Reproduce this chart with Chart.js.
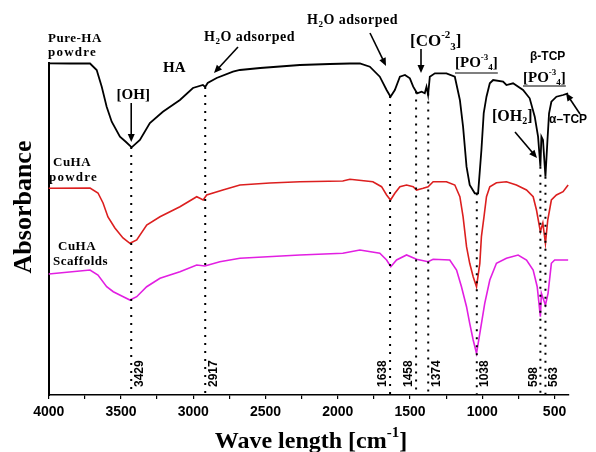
<!DOCTYPE html>
<html>
<head>
<meta charset="utf-8">
<script src="https://cdn.jsdelivr.net/npm/chart.js@4"></script>
<style>html,body{margin:0;padding:0;background:#fff}</style>
</head>
<body>
<canvas id="ftir" width="596" height="452"></canvas>
<script>
// FTIR spectra, values (arbitrary absorbance units)
const pureWn  = [4000,3853,3714,3668,3633,3599,3564,3507,3465,3426,3369,3300,3210,3092,3002,2933,2917,2900,2838,2725,2677,2537,2262,2055,1916,1847,1778,1709,1662,1635,1605,1570,1535,1501,1478,1451,1420,1398,1386,1375,1363,1328,1248,1190,1155,1133,1109,1087,1052,1029,1006,990,971,948,925,856,833,787,718,672,637,614,598,591,580,563,549,538,522,487,441,406];
const pureAbs = [331.7,331.5,331.5,325,308.3,288.3,273.3,258.3,253,247.7,255,272,283.3,295,307,310,308,312,317,323.3,325,327,330,331,331.5,331.7,328.3,318.3,305,298.3,305,318.3,320,316.7,308.3,301.7,303.3,301.7,308.3,300,318.3,321.7,321.7,318.3,295,268.3,228.3,210,201.7,201.7,245,282,298.3,311.7,315,313.3,310,311.7,305,296.7,278.3,258.3,228.3,258.3,255,218.3,255,281.7,293.3,298.3,300,301.7];

const cuWn  = [4000,3714,3659,3624,3590,3542,3486,3438,3391,3322,3230,3092,2976,2954,2931,2907,2795,2677,2470,2262,1965,1916,1757,1697,1662,1635,1605,1570,1524,1478,1455,1409,1375,1340,1248,1190,1155,1133,1109,1087,1063,1040,1017,1006,988,971,948,902,833,764,694,648,625,598,581,563,547,522,487,441,406];
const cuAbs = [206.7,207,202,192,178,167,157,151.7,155,170,178.3,188.3,198.3,196.7,195,200,205,210,212,213.3,214,215.7,213.3,208.3,200,195,201.7,208.3,210,208.3,205,206.7,208.3,213.3,213.3,210,198.3,178.3,148.3,131.7,118.3,108.3,131.7,158.3,178.3,198.3,208.3,212.3,213.3,210,205,198.3,185,163.3,172,151.7,175,195,200,203.3,210];

const scafWn  = [4000,3714,3659,3599,3553,3484,3438,3391,3322,3230,3092,2976,2919,2816,2677,2262,1965,1847,1709,1662,1633,1593,1524,1455,1375,1340,1225,1178,1144,1109,1087,1063,1040,1017,983,948,902,833,752,694,648,620,598,591,580,563,545,522,499,406];
const scafAbs = [121,125,120,108.3,103.3,98.3,95,98.3,108.3,116.7,123.3,130,129,133.3,136.7,140,141.7,145,141.7,135,128.3,135,140,135.7,133.3,135.7,135,125,108.3,88.3,71.7,55,41.7,61.7,91.7,115,131.7,136.7,140,135,125,108.3,78.3,101.7,97,90,101.7,131.7,135,135];

const seriesNames = ['Pure-HA powdre', 'CuHA powdre', 'CuHA Scaffolds'];
const peakWn = [3429, 2917, 1638, 1458, 1374, 1038, 598, 563];
const peakSide = ['r', 'r', 'l', 'l', 'r', 'r', 'l', 'r'];

const toPts = (xs, ys) => xs.map((v, i) => ({x: v, y: ys[i]}));

// value of the top spectrum at a wavenumber (for the dotted guide lines)
function pureAt(w) {
    for (let i = 0; i < pureWn.length - 1; i++) {
        const a = pureWn[i], b = pureWn[i + 1];
        if (w <= a && w >= b) return pureAbs[i] + (pureAbs[i + 1] - pureAbs[i]) * (a - w) / (a - b);
    }
    return pureAbs[pureAbs.length - 1];
}

const SERIF = '"Liberation Serif", "Times New Roman", serif';
const SANS = '"Liberation Sans", Arial, sans-serif';

function rich(ctx, parts, x, y, size, align) {
    const fnt = k => 'bold ' + (k === 'n' ? size : Math.round(size * 0.62)) + 'px ' + SERIF;
    let w = 0;
    parts.forEach(p => { ctx.font = fnt(p[1]); w += ctx.measureText(p[0]).width; });
    let cx = align === 'center' ? x - w / 2 : x;
    ctx.textAlign = 'left';
    parts.forEach(p => {
        ctx.font = fnt(p[1]);
        const dy = p[1] === 'sub' ? size * 0.3 : p[1] === 'sup' ? -size * 0.38 : 0;
        ctx.fillText(p[0], cx, y + dy);
        cx += ctx.measureText(p[0]).width;
    });
    return w;
}

function arrow(ctx, x1, y1, x2, y2) {
    const a = Math.atan2(y2 - y1, x2 - x1), L = 8, W = 3.5;
    ctx.beginPath(); ctx.moveTo(x1, y1); ctx.lineTo(x2 - Math.cos(a) * L * 0.6, y2 - Math.sin(a) * L * 0.6); ctx.stroke();
    ctx.beginPath();
    ctx.moveTo(x2, y2);
    ctx.lineTo(x2 - Math.cos(a) * L + Math.sin(a) * W, y2 - Math.sin(a) * L - Math.cos(a) * W);
    ctx.lineTo(x2 - Math.cos(a) * L - Math.sin(a) * W, y2 - Math.sin(a) * L + Math.cos(a) * W);
    ctx.closePath(); ctx.fill();
}

const annot = {
    id: 'annot',
    afterDatasetsDraw(chart) {
        const {ctx, scales: {x, y}} = chart;
        const base = y.getPixelForValue(0);
        ctx.save();
        ctx.fillStyle = '#000'; ctx.strokeStyle = '#000';

        // dotted guide lines + rotated labels
        peakWn.forEach((w, i) => {
            const px = x.getPixelForValue(w);
            ctx.setLineDash([2, 6]); ctx.lineWidth = 2;
            ctx.beginPath(); ctx.moveTo(px, y.getPixelForValue(pureAt(w))); ctx.lineTo(px, base); ctx.stroke();
            ctx.setLineDash([]);
            ctx.save();
            ctx.translate(px + (peakSide[i] === 'r' ? 8 : -7), base - 8);
            ctx.rotate(-Math.PI / 2);
            ctx.font = 'bold 12px ' + SANS; ctx.textAlign = 'left'; ctx.textBaseline = 'middle';
            ctx.fillText(String(w), 0, 0);
            ctx.restore();
        });

        ctx.textBaseline = 'middle';
        ctx.lineWidth = 1.6;
        // series names
        ctx.font = 'bold 13px ' + SERIF; ctx.textAlign = 'left';
        ctx.letterSpacing = '0.5px';
        ctx.fillText('Pure-HA', 48, 39);
        ctx.letterSpacing = '1.2px';
        ctx.fillText('powdre', 48, 53);
        ctx.letterSpacing = '0.5px';
        ctx.fillText('CuHA', 53, 163);
        ctx.letterSpacing = '1.2px';
        ctx.fillText('powdre', 49, 178);
        ctx.letterSpacing = '0.5px';
        ctx.fillText('CuHA', 58, 247); ctx.fillText('Scaffolds', 53, 262);
        ctx.letterSpacing = '0px';

        ctx.font = 'bold 15px ' + SERIF;
        ctx.fillText('HA', 163, 68);
        rich(ctx, [['[OH]', 'n']], x.getPixelForValue(3429) + 2, 95, 15, 'center');
        arrow(ctx, x.getPixelForValue(3429), 103, x.getPixelForValue(3429), 142);

        ctx.letterSpacing = '0.5px';
        rich(ctx, [['H', 'n'], ['2', 'sub'], ['O adsorped', 'n']], 204, 37, 14, 'left');
        rich(ctx, [['H', 'n'], ['2', 'sub'], ['O adsorped', 'n']], 307, 20, 14, 'left');
        ctx.letterSpacing = '0px';
        arrow(ctx, 238, 47, 214, 73);
        arrow(ctx, 370, 33, 386, 66);

        rich(ctx, [['[CO', 'n'], ['-2', 'sup'], ['3', 'sub'], [']', 'n']], 410, 42, 17, 'left');
        arrow(ctx, 421, 49, 421, 73);

        let w = rich(ctx, [['[PO', 'n'], ['-3', 'sup'], ['4', 'sub'], [']', 'n']], 455, 63, 15, 'left');
        ctx.lineWidth = 1.2;
        ctx.beginPath(); ctx.moveTo(455, 73); ctx.lineTo(455 + w, 73); ctx.stroke();
        w = rich(ctx, [['[PO', 'n'], ['-3', 'sup'], ['4', 'sub'], [']', 'n']], 523, 78, 15, 'left');
        ctx.beginPath(); ctx.moveTo(523, 86); ctx.lineTo(523 + w, 86); ctx.stroke();

        rich(ctx, [['[OH', 'n'], ['2', 'sub'], [']', 'n']], 492, 117, 16, 'left');
        ctx.lineWidth = 1.6;
        arrow(ctx, 515, 132, 537, 158);

        ctx.font = 'bold 12px ' + SANS; ctx.textAlign = 'left';
        ctx.fillText('\u03b2-TCP', 530, 57);
        ctx.fillText('\u03b1\u2013TCP', 549, 120);
        arrow(ctx, 580, 114, 566, 93);

        // axis titles
        ctx.save();
        ctx.translate(24, 207); ctx.rotate(-Math.PI / 2);
        ctx.font = 'bold 26px ' + SERIF; ctx.textAlign = 'center';
        ctx.fillText('Absorbance', 0, 0);
        ctx.restore();
        rich(ctx, [['Wave length [cm', 'n'], ['-1', 'sup'], [']', 'n']], 311, 442, 24, 'center');
        ctx.restore();
    }
};

new Chart(document.getElementById('ftir'), {
    type: 'line',
    data: {
        datasets: [
            { label: seriesNames[0], data: toPts(pureWn, pureAbs), borderColor: '#000000', borderWidth: 1.8 },
            { label: seriesNames[1], data: toPts(cuWn, cuAbs), borderColor: '#dc1f1f', borderWidth: 1.6 },
            { label: seriesNames[2], data: toPts(scafWn, scafAbs), borderColor: '#e21fe2', borderWidth: 1.6 }
        ]
    },
    options: {
        responsive: false,
        animation: false,
        layout: { padding: { left: 0, top: 63, right: 27, bottom: 0 } },
        elements: { point: { radius: 0 }, line: { tension: 0, fill: false } },
        datasets: { line: { clip: false } },
        plugins: { legend: { display: false }, tooltip: { enabled: false } },
        scales: {
            x: {
                type: 'linear', reverse: true, min: 400, max: 4000,
                afterFit: s => { s.height = 57; },
                ticks: {
                    stepSize: 250, includeBounds: false, autoSkip: false, maxRotation: 0, padding: 5,
                    color: '#000', font: { family: SANS, size: 14, weight: 'bold' },
                    callback: v => (v % 500 === 0 ? String(v) : '')
                },
                grid: { display: true, drawOnChartArea: false, drawTicks: true, tickLength: 4, color: '#000', lineWidth: 1.2 },
                border: { display: true, color: '#000', width: 1.5 }
            },
            y: {
                min: 0, max: 332,
                afterFit: s => { s.width = 48.7; },
                ticks: { display: false },
                grid: { display: false },
                border: { display: true, color: '#000', width: 2 }
            }
        }
    },
    plugins: [annot]
});
</script>
</body>
</html>
